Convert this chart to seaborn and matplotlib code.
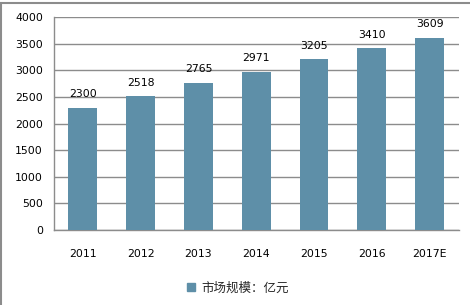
import matplotlib
matplotlib.use("Agg")
import matplotlib.pyplot as plt
import seaborn as sns
import pandas as pd
from matplotlib.lines import Line2D
from matplotlib.patches import Patch

years = ["2011", "2012", "2013", "2014", "2015", "2016", "2017E"]
values = [2300, 2518, 2765, 2971, 3205, 3410, 3609]
series_name = "市场规模：亿元"
yticks = [0, 500, 1000, 1500, 2000, 2500, 3000, 3500, 4000]

sns.set_theme(style="white")
plt.rcParams['font.family'] = ['DejaVu Sans', 'Noto Sans CJK SC']

df = pd.DataFrame({"year": years, "value": values})
bar_color = "#5E8FA8"
grid_color = "#8C8C8C"

fig = plt.figure(figsize=(4.7, 3.05), dpi=100)
ax = fig.add_axes([54/470, 1-230/305, (458.5-54)/470, (230-17)/305])

sns.barplot(data=df, x="year", y="value", color=bar_color, width=0.5,
            saturation=1, linewidth=0, ax=ax, zorder=3)

ax.set_ylim(0, 4000)
ax.set_yticks(yticks)
ax.set_yticklabels([str(t) for t in yticks], fontsize=7.8, color="#000000")
ax.set_xticklabels(years, fontsize=7.8, color="#000000")
ax.set_xlabel("")
ax.set_ylabel("")
ax.yaxis.grid(True, color=grid_color, linewidth=1.0, zorder=0)
ax.set_axisbelow(True)
for s in ["top", "right"]:
    ax.spines[s].set_visible(False)
for s in ["left", "bottom"]:
    ax.spines[s].set_color(grid_color)
    ax.spines[s].set_linewidth(1.0)
ax.tick_params(axis="both", length=0)
ax.tick_params(axis="y", pad=8)
ax.tick_params(axis="x", pad=14)

for i, v in enumerate(values):
    ax.annotate(str(v), (i, v), xytext=(0, 6), textcoords="offset points",
                ha="center", va="bottom", fontsize=7.8, color="#000000", zorder=5)

handle = Patch(facecolor=bar_color, edgecolor=bar_color)
leg = fig.legend([handle], [series_name], loc="center", bbox_to_anchor=(238/470, 1-288/305),
                 frameon=False, handlelength=0.6, handleheight=0.6, handletextpad=0.5,
                 prop={"family": ["Noto Sans CJK SC", "DejaVu Sans"], "size": 9})

# outer frame lines
fig.add_artist(Line2D([0.5/470, 0.5/470], [0, 1-3/305], transform=fig.transFigure, color="#8C8C8C", lw=1.5))
fig.add_artist(Line2D([0, 1], [1-3/305, 1-3/305], transform=fig.transFigure, color="#8C8C8C", lw=1.5))

fig.savefig("out.png", dpi=100)
